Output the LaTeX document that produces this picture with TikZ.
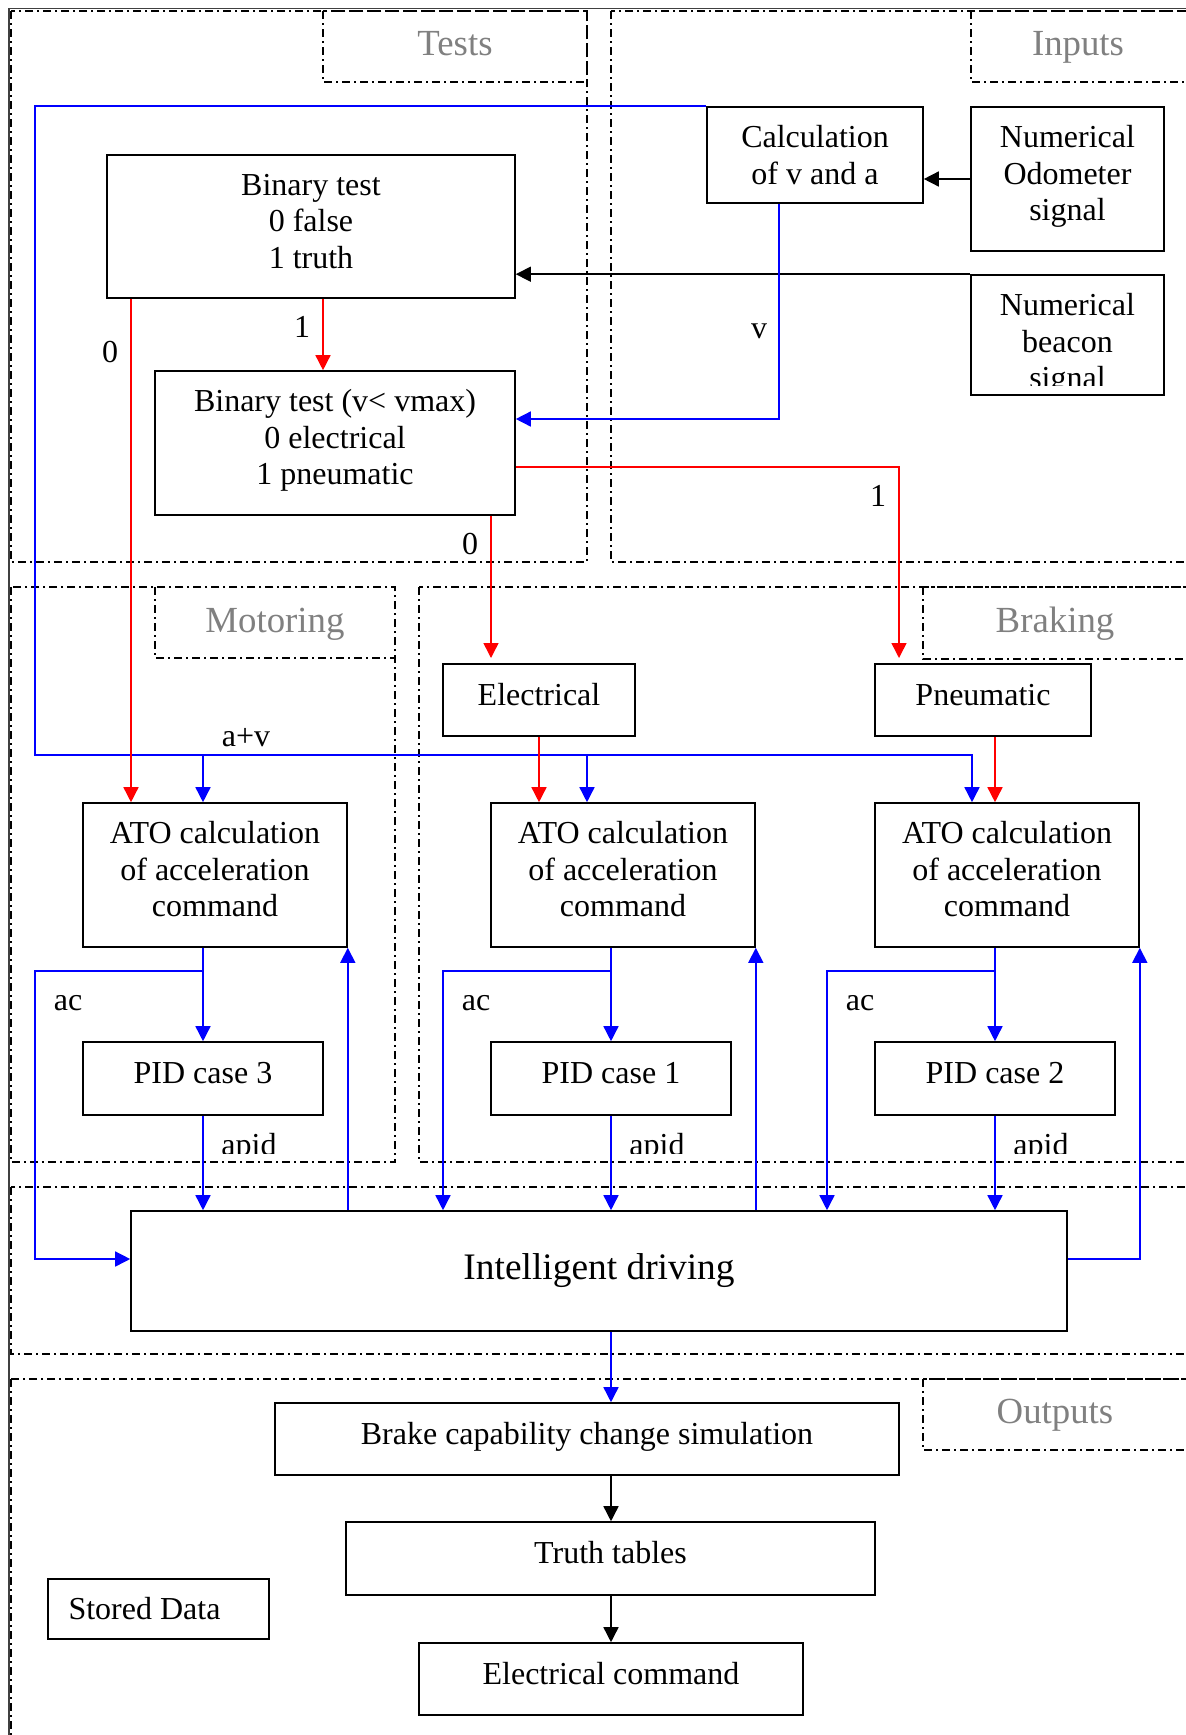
\documentclass[tikz,border=0pt]{standalone}
\usepackage{fontspec}
\setmainfont{Liberation Serif}
\usetikzlibrary{arrows.meta}

\definecolor{flowblue}{RGB}{0,0,255}
\definecolor{flowred}{RGB}{255,0,0}
\definecolor{zonegray}{RGB}{128,128,128}

% text block of a box, set a little above the box centre
\newcommand\boxlines[1]{\raisebox{0pt}[\height][\dimexpr\depth+2pt\relax]{\begin{tabular}{@{}c@{}}#1\end{tabular}}}

\tikzset{
  box/.style 2 args={draw, line width=0.8pt, rectangle, inner sep=0pt,
    minimum width=#1*0.5pt, minimum height=#2*0.5pt,
    font=\fontsize{16}{18.25}\selectfont},
  zone/.style={draw, line width=0.85pt, dash pattern=on 4pt off 2pt on 1pt off 2pt},
  zonetitle/.style={anchor=base, inner sep=0pt, text=zonegray, font=\fontsize{18.4}{21}\selectfont},
  tag/.style={anchor=base, inner sep=0pt, font=\fontsize{16}{18.25}\selectfont},
  headed/.style={-{Triangle[length=7.5pt,width=7.5pt]}},
  bluelink/.style={draw=flowblue, line width=0.75pt, headed},
  redlink/.style={draw=flowred, line width=0.75pt, headed},
  blacklink/.style={draw=black, line width=0.75pt, headed},
}

\begin{document}
\begin{tikzpicture}[x=0.5pt,y=-0.5pt]
\useasboundingbox (0,0) rectangle (1186,1735);
\clip (0,0) rectangle (1186,1735);

% outer frame
\draw[line width=0.6pt, black!75] (9,1800) -- (9,8.5) -- (1250,8.5);

% zones and their title boxes
\draw[zone] (11,11) rectangle (587,562);
\draw[zone] (323,11) rectangle (587,82);
\draw[zone] (611,11) rectangle (1250,562);
\draw[zone] (971,11) rectangle (1250,82);
\draw[zone] (11,587) rectangle (395,1162);
\draw[zone] (155,587) rectangle (395,658);
\draw[zone] (419,587) rectangle (1250,1162);
\draw[zone] (923,587) rectangle (1250,659);
\draw[zone] (11,1187) rectangle (1250,1354);
\draw[zone] (11,1379) rectangle (1250,1800);
\draw[zone] (923,1379) rectangle (1250,1450);

\node[zonetitle] (ztests) at (455,55.5) {Tests};
\node[zonetitle] (zinputs) at (1078,55) {Inputs};
\node[zonetitle] (zmotor) at (275,632) {Motoring};
\node[zonetitle] (zbrake) at (1055,632) {Braking};
\node[zonetitle] (zout) at (1055,1423) {Outputs};

% blocks
\node[box={408}{143}] (bin1) at (311,226.5) {\boxlines{Binary test\\0 false\\1 truth}};
\node[box={360}{144}] (bin2) at (335,443) {\boxlines{Binary test (v< vmax)\\0 electrical\\1 pneumatic}};
\node[box={216}{96}, align=center] (calc) at (815,155) {Calculation\\of v and a};
\node[box={193}{144}] (odo) at (1067.5,179) {\boxlines{Numerical\\Odometer\\signal}};
\node[box={193}{120}] (beacon) at (1067.5,335) {};
\begin{scope}
  \clip (971,275) rectangle (1164,385);
  \node[tag] (beacontext) at (1067.5,315.6) {\begin{tabular}[t]{@{}c@{}}Numerical\\beacon\\signal\end{tabular}};
\end{scope}

\node[box={192}{72}] (elec) at (539,700) {\boxlines{Electrical}};
\node[box={216}{72}] (pneu) at (983,700) {\boxlines{Pneumatic}};

\node[box={264}{144}] (ato3) at (215,875) {\boxlines{ATO calculation\\of acceleration\\command}};
\node[box={264}{144}] (ato1) at (623,875) {\boxlines{ATO calculation\\of acceleration\\command}};
\node[box={264}{144}] (ato2) at (1007,875) {\boxlines{ATO calculation\\of acceleration\\command}};

\node[box={240}{73}] (pid3) at (203,1078.5) {\boxlines{PID case 3}};
\node[box={240}{73}] (pid1) at (611,1078.5) {\boxlines{PID case 1}};
\node[box={240}{73}] (pid2) at (995,1078.5) {\boxlines{PID case 2}};

\node[box={936}{120}, font=\fontsize{18.7}{21.5}\selectfont] (drive) at (599,1271) {Intelligent driving};

\node[box={624}{72}] (brake) at (587,1439) {\boxlines{Brake capability change simulation}};
\node[box={529}{73}] (truth) at (610.5,1558.5) {\boxlines{Truth tables}};
\node[box={384}{72}] (ecmd) at (611,1679) {\boxlines{Electrical command}};
\node[box={221}{60}] (stored) at (158.5,1609) {Stored Data\kern14pt};

% free ends and bends
\coordinate (bus) at (35,755);
\coordinate (elecin) at (491,658);
\coordinate (pneuin) at (899,658);
\coordinate (acrow) at (0,971);
\coordinate (fbrow) at (0,1259);

% inputs
\draw[blacklink] (odo.west) -- (calc.east |- odo.west);
\draw[blacklink] (beacon.north west) -- (bin1.east |- beacon.north west);

% speed and acceleration
\draw[bluelink] (779,0 |- calc.south) |- (bin2.east |- 0,419);
\draw[bluelink] (calc.north west) -| (bus) -| (972,0 |- ato2.north);
\draw[bluelink] (203,0 |- bus) -- (203,0 |- ato3.north);
\draw[bluelink] (587,0 |- bus) -- (587,0 |- ato1.north);

% test outcomes
\draw[redlink] (131,0 |- bin1.south) -- (131,0 |- ato3.north);
\draw[redlink] (323,0 |- bin1.south) -- (323,0 |- bin2.north);
\draw[redlink] (bin2.east |- 0,467) -| (pneuin);
\draw[redlink] (491,0 |- bin2.south) -- (elecin);
\draw[redlink] (elec.south) -- (elec.south |- ato1.north);
\draw[redlink] (995,0 |- pneu.south) -- (995,0 |- ato2.north);

% motoring loop
\draw[bluelink] (pid3.north |- ato3.south) -- (pid3.north);
\draw[bluelink] (pid3.north |- acrow) -| (35,0 |- fbrow) -- (drive.west |- fbrow);
\draw[bluelink] (pid3.south) -- (pid3.south |- drive.north);
\draw[bluelink] (ato3.south east |- drive.north) -- (ato3.south east);

% electrical braking loop
\draw[bluelink] (pid1.north |- ato1.south) -- (pid1.north);
\draw[bluelink] (pid1.north |- acrow) -| (443,0 |- drive.north);
\draw[bluelink] (pid1.south) -- (pid1.south |- drive.north);
\draw[bluelink] (ato1.south east |- drive.north) -- (ato1.south east);

% pneumatic braking loop
\draw[bluelink] (pid2.north |- ato2.south) -- (pid2.north);
\draw[bluelink] (pid2.north |- acrow) -| (827,0 |- drive.north);
\draw[bluelink] (pid2.south) -- (pid2.south |- drive.north);
\draw[bluelink] (drive.east |- fbrow) -| (ato2.south east);

% outputs
\draw[bluelink] (611,0 |- drive.south) -- (611,0 |- brake.north);
\draw[blacklink] (611,0 |- brake.south) -- (611,0 |- truth.north);
\draw[blacklink] (611,0 |- truth.south) -- (611,0 |- ecmd.north);

% connector labels
\node[tag] (l0a) at (110,362) {0};
\node[tag] (l1a) at (302,337.5) {1};
\node[tag] (lv) at (759,338) {v};
\node[tag] (l1b) at (878,506) {1};
\node[tag] (l0b) at (470,554) {0};
\node[tag] (lav) at (246,746) {a+v};
\node[tag] (lac3) at (68,1010) {ac};
\node[tag] (lac1) at (476,1010) {ac};
\node[tag] (lac2) at (860,1010) {ac};
\begin{scope}
  \clip (0,1100) rectangle (1186,1153);
  \node[tag] (lapid3) at (249,1155) {apid};
  \node[tag] (lapid1) at (657,1155) {apid};
  \node[tag] (lapid2) at (1041,1155) {apid};
\end{scope}
\end{tikzpicture}
\end{document}
